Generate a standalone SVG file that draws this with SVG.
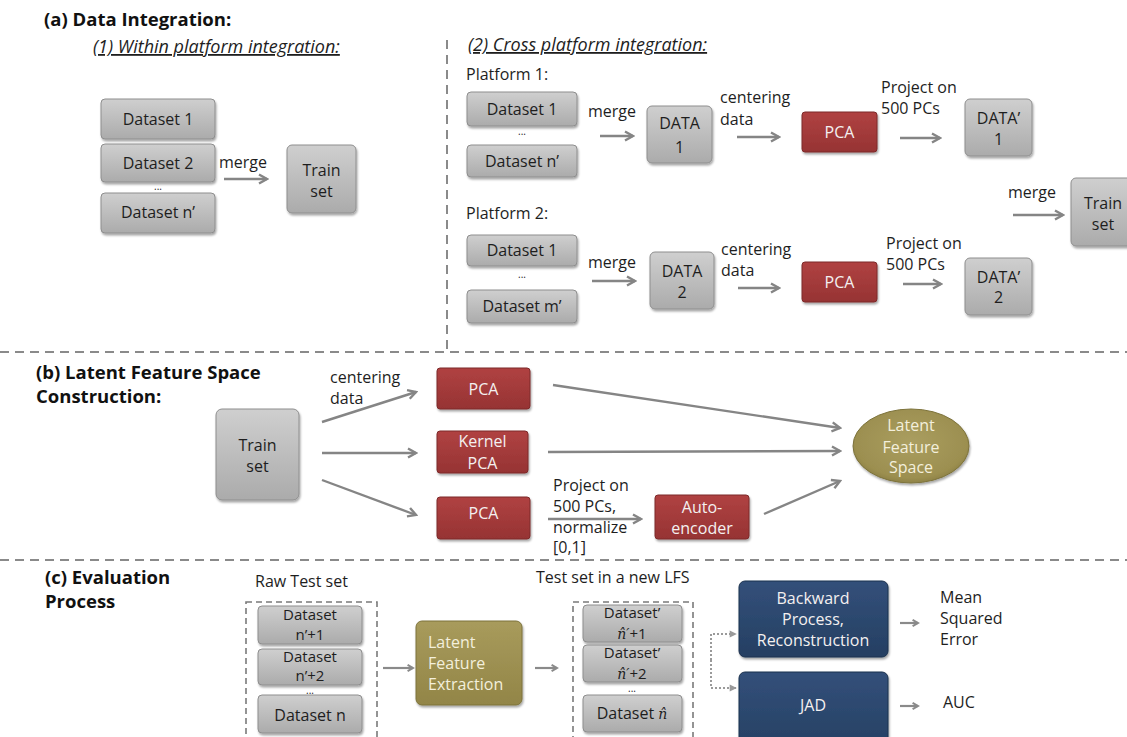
<svg xmlns="http://www.w3.org/2000/svg" width="1127" height="737" viewBox="0 0 1127 737">
<defs>
  <linearGradient id="gGray" x1="0" y1="0" x2="0" y2="1">
    <stop offset="0" stop-color="#cfcfcf"/><stop offset="1" stop-color="#ababab"/>
  </linearGradient>
  <linearGradient id="gRed" x1="0" y1="0" x2="0" y2="1">
    <stop offset="0" stop-color="#b04242"/><stop offset="1" stop-color="#963333"/>
  </linearGradient>
  <linearGradient id="gOliveBox" x1="0" y1="0" x2="0" y2="1">
    <stop offset="0" stop-color="#a89b5c"/><stop offset="1" stop-color="#928547"/>
  </linearGradient>
  <radialGradient id="gOlive" cx="0.5" cy="0.45" r="0.6">
    <stop offset="0" stop-color="#aa9e60"/><stop offset="0.8" stop-color="#9c8f50"/><stop offset="1" stop-color="#857940"/>
  </radialGradient>
  <linearGradient id="gNavy" x1="0" y1="0" x2="0" y2="1">
    <stop offset="0" stop-color="#33507a"/><stop offset="1" stop-color="#253f62"/>
  </linearGradient>
  <filter id="sh" x="-10%" y="-10%" width="130%" height="140%">
    <feDropShadow dx="1" dy="2" stdDeviation="1.3" flood-color="#000" flood-opacity="0.35"/>
  </filter>
  <marker id="ah" viewBox="0 0 12 12" refX="10" refY="6" markerWidth="12" markerHeight="12" markerUnits="userSpaceOnUse" orient="auto">
    <path d="M2,1.5 L10,6 L2,10.5" fill="none" stroke="#858585" stroke-width="2.4"/>
  </marker>
  <marker id="ahs" viewBox="0 0 10 10" refX="8" refY="5" markerWidth="9" markerHeight="9" markerUnits="userSpaceOnUse" orient="auto">
    <path d="M2,1.5 L8,5 L2,8.5" fill="none" stroke="#8a8a8a" stroke-width="2.2"/>
  </marker>
  <marker id="ahd" viewBox="0 0 10 10" refX="8" refY="5" markerWidth="9" markerHeight="9" markerUnits="userSpaceOnUse" orient="auto">
    <path d="M1,1 L9,5 L1,9 Z" fill="#9a9a9a"/>
  </marker>
</defs>
<style>
  text{font-family:"Open Sans","Liberation Sans",sans-serif;font-size:16px;fill:#1e1e1e}
  .h{font-weight:bold;font-size:18.5px;fill:#111}
  .u{font-style:italic;text-decoration:underline;font-size:18px}
  .c{text-anchor:middle}
  .s{font-size:15px}
  .w{fill:#f4f0f0}
  .wo{fill:#f3efdc}
  .gray{fill:url(#gGray);stroke:#8e8e8e;stroke-width:1;filter:url(#sh)}
  .red{fill:url(#gRed);stroke:#7d2a2a;stroke-width:1;filter:url(#sh)}
  .olive{fill:url(#gOliveBox);stroke:#7d733c;stroke-width:1;filter:url(#sh)}
  .navy{fill:url(#gNavy);stroke:#1d324e;stroke-width:1;filter:url(#sh)}
  .dots{font-size:10px}
  .m{font-family:"DejaVu Serif","Liberation Serif",serif;font-style:italic;font-size:14px}
  .arr{fill:none;stroke:#858585;stroke-width:2.4;marker-end:url(#ah)}
  .arrs{fill:none;stroke:#8a8a8a;stroke-width:2.2;marker-end:url(#ahs)}
  .dotted{fill:none;stroke:#9a9a9a;stroke-width:2;stroke-dasharray:2,2;marker-end:url(#ahd)}
  .dash{fill:none;stroke:#8a8a8a;stroke-width:2;stroke-dasharray:9,6}
  .dashbox{fill:none;stroke:#7a7a7a;stroke-width:1.6;stroke-dasharray:6,4}
</style>

<!-- separators -->
<g id="separators">
  <line class="dash" x1="0" y1="352" x2="1127" y2="352"/>
  <line class="dash" x1="447" y1="40" x2="447" y2="352"/>
  <line class="dash" x1="0" y1="560" x2="1127" y2="560"/>
  <rect class="dashbox" x="246" y="602" width="131" height="145"/>
  <rect class="dashbox" x="573" y="602" width="120" height="145"/>
</g>

<!-- headings and labels -->
<g id="labels">
  <text class="h" x="44" y="26">(a) Data Integration:</text>
  <text class="u" x="93" y="53">(1) Within platform integration:</text>
  <text class="u" x="468" y="51">(2) Cross platform integration:</text>
  <text x="466" y="80">Platform 1:</text>
  <text x="466" y="219">Platform 2:</text>
  <text class="c dots" x="158" y="190">...</text>
  <text class="c dots" x="522" y="135">...</text>
  <text class="c dots" x="522" y="278">...</text>
  <text x="219" y="168">merge</text>
  <text x="588" y="117">merge</text>
  <text x="720" y="103">centering</text>
  <text x="720" y="125">data</text>
  <text x="881" y="93">Project on</text>
  <text x="881" y="114">500 PCs</text>
  <text x="1008" y="198">merge</text>
  <text x="588" y="268">merge</text>
  <text x="721" y="255">centering</text>
  <text x="721" y="276">data</text>
  <text x="886" y="249">Project on</text>
  <text x="886" y="270">500 PCs</text>

  <text class="h" x="36" y="379">(b) Latent Feature Space</text>
  <text class="h" x="36" y="403">Construction:</text>
  <text x="330" y="383">centering</text>
  <text x="330" y="404">data</text>
  <text x="553" y="491">Project on</text>
  <text x="553" y="512">500 PCs,</text>
  <text x="553" y="533">normalize</text>
  <text x="553" y="553">[0,1]</text>

  <text class="h" x="45" y="584">(c) Evaluation</text>
  <text class="h" x="45" y="608">Process</text>
  <text x="255" y="587">Raw Test set</text>
  <text x="536" y="583">Test set in a new LFS</text>
  <text class="c dots" x="310" y="694">...</text>
  <text class="c dots" x="632" y="692">...</text>
  <text x="940" y="603">Mean</text>
  <text x="940" y="624">Squared</text>
  <text x="940" y="645">Error</text>
  <text x="943" y="708">AUC</text>
</g>

<!-- (a) within platform -->
<g id="a1-dataset1"><rect class="gray" x="101" y="99" width="114" height="40" rx="4"/><text class="c" x="158" y="125">Dataset 1</text></g>
<g id="a1-dataset2"><rect class="gray" x="101" y="144" width="114" height="38" rx="4"/><text class="c" x="158" y="169">Dataset 2</text></g>
<g id="a1-datasetn"><rect class="gray" x="101" y="193" width="114" height="40" rx="4"/><text class="c" x="158" y="218">Dataset n’</text></g>
<g id="a1-train"><rect class="gray" x="287" y="145" width="69" height="68" rx="5"/><text class="c" x="321.5" y="176">Train</text><text class="c" x="321.5" y="197">set</text></g>

<!-- (a) cross platform, platform 1 -->
<g id="p1-dataset1"><rect class="gray" x="467" y="92" width="110" height="34" rx="4"/><text class="c" x="522" y="115">Dataset 1</text></g>
<g id="p1-datasetn"><rect class="gray" x="467" y="145" width="110" height="32" rx="4"/><text class="c" x="522" y="167">Dataset n’</text></g>
<g id="p1-data"><rect class="gray" x="647" y="106" width="65" height="57" rx="5"/><text class="c" x="679.5" y="129">DATA</text><text class="c" x="679.5" y="153">1</text></g>
<g id="p1-pca"><rect class="red" x="802" y="112" width="75" height="40" rx="3"/><text class="c w" x="839.5" y="138">PCA</text></g>
<g id="p1-datap"><rect class="gray" x="965" y="99" width="67" height="57" rx="5"/><text class="c" x="998.5" y="124">DATA’</text><text class="c" x="998.5" y="145">1</text></g>

<!-- platform 2 -->
<g id="p2-dataset1"><rect class="gray" x="467" y="235" width="110" height="31" rx="4"/><text class="c" x="522" y="256">Dataset 1</text></g>
<g id="p2-datasetm"><rect class="gray" x="467" y="290" width="110" height="33" rx="4"/><text class="c" x="522" y="312">Dataset m’</text></g>
<g id="p2-data"><rect class="gray" x="650" y="252" width="64" height="57" rx="5"/><text class="c" x="682" y="277">DATA</text><text class="c" x="682" y="298">2</text></g>
<g id="p2-pca"><rect class="red" x="802" y="262" width="75" height="40" rx="3"/><text class="c w" x="839.5" y="288">PCA</text></g>
<g id="p2-datap"><rect class="gray" x="965" y="258" width="67" height="57" rx="5"/><text class="c" x="998.5" y="283">DATA’</text><text class="c" x="998.5" y="303">2</text></g>

<g id="a2-train"><rect class="gray" x="1071" y="178" width="66" height="68" rx="5"/><text class="c" x="1103" y="209">Train</text><text class="c" x="1103" y="230">set</text></g>

<!-- (b) -->
<g id="b-train"><rect class="gray" x="216" y="409" width="83" height="91" rx="6"/><text class="c" x="257.5" y="451">Train</text><text class="c" x="257.5" y="472">set</text></g>
<g id="b-pca"><rect class="red" x="437" y="368" width="93" height="41" rx="3"/><text class="c w" x="483.5" y="395">PCA</text></g>
<g id="b-kpca"><rect class="red" x="437" y="431" width="91" height="42" rx="3"/><text class="c w" x="482.5" y="447">Kernel</text><text class="c w" x="482.5" y="469">PCA</text></g>
<g id="b-pca2"><rect class="red" x="437" y="497" width="93" height="42" rx="3"/><text class="c w" x="483.5" y="519">PCA</text></g>
<g id="b-autoenc"><rect class="red" x="655" y="495" width="94" height="44" rx="3"/><text class="c w" x="702" y="513">Auto-</text><text class="c w" x="702" y="534">encoder</text></g>
<g id="b-lfs"><ellipse cx="911" cy="446" rx="58" ry="37" fill="url(#gOlive)" stroke="#7d733c" stroke-width="1" filter="url(#sh)"/><text class="c wo" x="911" y="431">Latent</text><text class="c wo" x="911" y="453">Feature</text><text class="c wo" x="911" y="473">Space</text></g>

<!-- (c) -->
<g id="c-ds1"><rect class="gray" x="258" y="606" width="104" height="38" rx="4"/><text class="c s" x="310" y="620">Dataset</text><text class="c s" x="310" y="640">n’+1</text></g>
<g id="c-ds2"><rect class="gray" x="258" y="649" width="104" height="36" rx="4"/><text class="c s" x="310" y="662">Dataset</text><text class="c s" x="310" y="681">n’+2</text></g>
<g id="c-dsn"><rect class="gray" x="258" y="695" width="104" height="38" rx="4"/><text class="c" x="310" y="721">Dataset n</text></g>
<g id="c-lfe"><rect class="olive" x="416" y="621" width="106" height="84" rx="6"/><text class="wo" x="428" y="648">Latent</text><text class="wo" x="428" y="669">Feature</text><text class="wo" x="428" y="690">Extraction</text></g>
<g id="c-dsp1"><rect class="gray" x="583" y="605" width="99" height="37" rx="4"/><text class="c s" x="632" y="618">Dataset’</text><text class="c s" x="632" y="639"><tspan class="m">n̂′</tspan>+1</text></g>
<g id="c-dsp2"><rect class="gray" x="583" y="645" width="99" height="37" rx="4"/><text class="c s" x="632" y="658">Dataset’</text><text class="c s" x="632" y="679"><tspan class="m">n̂′</tspan>+2</text></g>
<g id="c-dspn"><rect class="gray" x="583" y="695" width="99" height="37" rx="4"/><text class="c" x="632" y="719">Dataset <tspan class="m">n̂</tspan></text></g>
<g id="c-backward"><rect class="navy" x="739" y="581" width="149" height="76" rx="6"/><text class="c w" x="813" y="604">Backward</text><text class="c w" x="813" y="625">Process,</text><text class="c w" x="813" y="646">Reconstruction</text></g>
<g id="c-jad"><rect class="navy" x="739" y="672" width="149" height="80" rx="6"/><text class="c w" x="813" y="711">JAD</text></g>

<!-- connectors -->
<g id="connectors">
  <line class="arr" x1="224" y1="179" x2="267" y2="179"/>
  <line class="arr" x1="600" y1="136" x2="633" y2="136"/>
  <line class="arr" x1="737" y1="137" x2="779" y2="137"/>
  <line class="arr" x1="900" y1="138" x2="940" y2="138"/>
  <line class="arr" x1="1013" y1="215" x2="1063" y2="215"/>
  <line class="arr" x1="592" y1="281" x2="635" y2="281"/>
  <line class="arr" x1="738" y1="288" x2="779" y2="288"/>
  <line class="arr" x1="903" y1="284" x2="941" y2="284"/>

  <line class="arr" x1="322" y1="422" x2="416" y2="392"/>
  <line class="arr" x1="322" y1="453" x2="416" y2="453"/>
  <line class="arr" x1="322" y1="480" x2="416" y2="515"/>
  <line class="arr" x1="553" y1="385" x2="840" y2="428"/>
  <line class="arr" x1="548" y1="452" x2="840" y2="451"/>
  <line class="arr" x1="764" y1="514" x2="840" y2="481"/>
  <line class="arr" x1="548" y1="519" x2="641" y2="519"/>

  <line class="arrs" x1="383" y1="668" x2="413" y2="668"/>
  <line class="arrs" x1="535" y1="668" x2="557" y2="668"/>
  <path class="dotted" d="M711,660 V634 H736"/>
  <path class="dotted" d="M711,660 V688 H736"/>
  <line class="arrs" x1="900" y1="623" x2="918" y2="623"/>
  <line class="arrs" x1="900" y1="706" x2="918" y2="706"/>
</g>
</svg>
